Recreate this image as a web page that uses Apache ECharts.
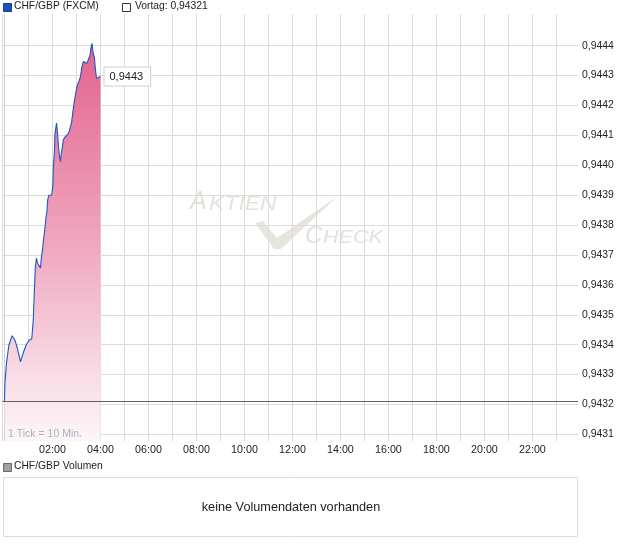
<!DOCTYPE html>
<html><head><meta charset="utf-8">
<script src="https://cdn.jsdelivr.net/npm/echarts@6/dist/echarts.min.js"></script>
<style>html,body{margin:0;padding:0;background:#fff}#c{width:620px;height:546px}</style>
</head><body><div id="c"></div>
<script>
// minutes since 00:00
var times = [0,1,5,11,19,26,32,40,47,54,62,68,70,72,73,75,77,80,82,85,87,90,92,95,97,100,102,103,106,108,111,118,121,122,125,126,130,132,135,137,140,142,145,147,151,156,160,162,166,168,171,174,178,182,186,190,193,197,201,206,210,214,216,219,221,225,227,230,233,240];
var prices = [0.943212,0.943271,0.943339,0.943399,0.943430,0.943416,0.943389,0.943343,0.943373,0.943399,
0.943416,0.943419,0.943449,0.943483,0.943523,0.943590,0.943657,0.943690,0.943675,0.943667,
0.943664,0.943657,0.943690,0.943717,0.943745,0.943778,0.943801,0.943817,0.943845,0.943884,
0.943900,0.943900,0.943934,0.943990,0.944052,0.944102,0.944141,0.944115,0.944063,0.944035,
0.944012,0.944040,0.944063,0.944085,0.944094,0.944099,0.944107,0.944115,0.944135,0.944146,
0.944180,0.944208,0.944241,0.944269,0.944280,0.944297,0.944325,0.944347,0.944341,0.944341,
0.944347,0.944369,0.944392,0.944408,0.944380,0.944358,0.944325,0.944291,0.944297,0.944297];
var vortag = 0.94321;
var xRange = [-5, 1434];
var yRange = [0.943078, 0.944506];
var yTicks = [0.9431,0.9432,0.9433,0.9434,0.9435,0.9436,0.9437,0.9438,0.9439,0.9440,0.9441,0.9442,0.9443,0.9444];
var xGridTicks = [-5,0,60,120,180,240,300,360,420,480,540,600,660,720,780,840,900,960,1020,1080,1140,1200,1260,1320,1380];
var xLabelTicks = [120,240,360,480,600,720,840,960,1080,1200,1320];
var seriesName = 'CHF/GBP (FXCM)';
var vortagLabel = 'Vortag: 0,94321';
var volumeName = 'CHF/GBP Volumen';
var volumeText = 'keine Volumendaten vorhanden';
var tickNote = '1 Tick = 10 Min.';

function fmt4(v){ return v.toFixed(4).replace('.', ','); }
function hhmm(m){ var h = Math.floor(m/60), mm = m%60; return (h<10?'0':'')+h+':'+(mm<10?'0':'')+mm; }

var data = times.map(function(t,i){ return [t, prices[i]]; });
var vortagData = [[xRange[0], vortag], [xRange[1], vortag]];
var FONT = '"Liberation Sans", Arial, sans-serif';
var WM = '#e6e1db';

var chart = echarts.init(document.getElementById('c'), null, {renderer:'canvas'});
chart.setOption({
  animation: false,
  textStyle: {fontFamily: FONT},
  grid: {left: 2.5, right: 42, top: 14, bottom: 105, containLabel: false},
  xAxis: {
    type: 'value', min: xRange[0], max: xRange[1],
    axisLine: {show: false},
    axisTick: {show: false, customValues: xGridTicks},
    axisLabel: {customValues: xLabelTicks, formatter: function(v){ return hhmm(v); }, color: '#222', fontSize: 10.7, margin: 4, fontFamily: FONT},
    splitLine: {show: true, lineStyle: {color: '#dcdcdc', width: 1}}
  },
  yAxis: {
    type: 'value', position: 'right', min: yRange[0], max: yRange[1], scale: true,
    axisLine: {show: true, lineStyle: {color: '#cfcfcf'}},
    axisTick: {show: false, customValues: yTicks},
    axisLabel: {customValues: yTicks, formatter: function(v){ return fmt4(v); }, color: '#222', fontSize: 10.4, margin: 4, fontFamily: FONT},
    splitLine: {show: true, lineStyle: {color: '#dcdcdc', width: 1}}
  },
  series: [{
    name: seriesName, type: 'line', data: data, showSymbol: false, symbol: 'none',
    lineStyle: {color: '#1f56c4', width: 1.1},
    itemStyle: {color: '#1f56c4'},
    areaStyle: {origin: 'start', opacity: 1, color: new echarts.graphic.LinearGradient(0,0,0,1,[
      {offset: 0, color: '#e3638d'}, {offset: 0.5, color: '#efa6bf'}, {offset: 1, color: '#fdf6f9'}])},
    endLabel: {show: true, formatter: function(p){ return fmt4(p.value[1]); }, backgroundColor: '#fff',
      borderColor: '#cfcfcf', borderWidth: 1, padding: [4, 7, 3, 5], distance: 4, color: '#222', fontSize: 11, fontFamily: FONT},
    z: 3
  }, {
    name: vortagLabel, type: 'line', data: vortagData, showSymbol: false, symbol: 'none', silent: true,
    lineStyle: {color: '#5f5f5f', width: 1}, itemStyle: {color: '#5f5f5f'}, z: 4
  }],
  graphic: [
    {type: 'rect', left: 3, top: 3, shape: {width: 8, height: 8}, style: {fill: '#1d52bb', stroke: '#163d8c', lineWidth: 1}},
    {type: 'text', left: 14, top: 1, style: {text: seriesName, font: '10.3px ' + FONT, fill: '#222'}},
    {type: 'rect', left: 122, top: 3, shape: {width: 8, height: 8}, style: {fill: '#fff', stroke: '#333', lineWidth: 1}},
    {type: 'text', left: 135, top: 1, style: {text: vortagLabel, font: '10.3px ' + FONT, fill: '#222'}},
    {type: 'text', left: 8, top: 429, z: 10, style: {text: tickNote, font: '10.5px ' + FONT, fill: '#a9b1bf'}},
    {type: 'group', z: -1, silent: true, children: [
      {type: 'text', x: 190, y: 190, style: {text: 'A', font: 'italic 25px ' + FONT, fill: WM}},
      {type: 'text', x: 209, y: 194, scaleX: 1.15, style: {text: 'KTIEN', font: 'italic 20px ' + FONT, fill: WM}},
      {type: 'polygon', shape: {points: [[255,223],[263,221],[277,238],[338,196],[281,249],[274,249]]}, style: {fill: '#e8e4df'}},
      {type: 'text', x: 305, y: 224, style: {text: 'C', font: 'italic 24px ' + FONT, fill: WM}},
      {type: 'text', x: 323, y: 229, scaleX: 1.2, style: {text: 'HECK', font: 'italic 18px ' + FONT, fill: WM}}
    ]},
    {type: 'rect', left: 3, top: 463, shape: {width: 8, height: 8}, style: {fill: '#a0a0a0', stroke: '#666', lineWidth: 1}},
    {type: 'text', left: 14, top: 461, style: {text: volumeName, font: '10.3px ' + FONT, fill: '#222'}},
    {type: 'rect', shape: {x: 3.5, y: 477.5, width: 574, height: 59}, style: {fill: '#fff', stroke: '#dcdcdc', lineWidth: 1}},
    {type: 'text', x: 291, y: 507, style: {text: volumeText, font: '12.7px ' + FONT, fill: '#222', align: 'center', verticalAlign: 'middle'}}
  ]
});
</script></body></html>
